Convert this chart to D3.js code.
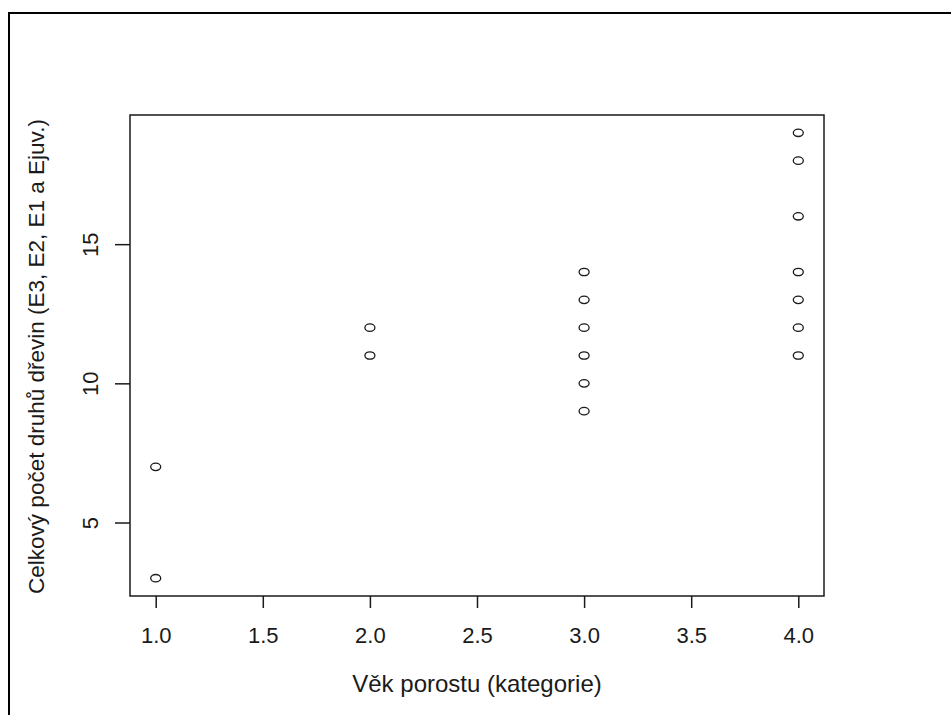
<!DOCTYPE html>
<html>
<head>
<meta charset="utf-8">
<script src="https://cdn.jsdelivr.net/npm/d3@7"></script>
<style>
  html, body { margin: 0; padding: 0; background: #fff; }
  svg { display: block; font-family: "Liberation Sans", Arial, sans-serif; }
</style>
</head>
<body>
<svg id="chart"></svg>
<script>
// --- data ---
const vekKategorie = [1, 1, 2, 2, 3, 3, 3, 3, 3, 3, 4, 4, 4, 4, 4, 4, 4];
const pocetDruhu   = [7, 3, 12, 11, 14, 13, 12, 11, 10, 9, 19, 18, 16, 14, 13, 12, 11];
const xTicks = [1.0, 1.5, 2.0, 2.5, 3.0, 3.5, 4.0];
const yTicks = [5, 10, 15];
const xLabel = "Věk porostu (kategorie)";
const yLabel = "Celkový počet druhů dřevin (E3, E2, E1 a Ejuv.)";

const points = vekKategorie.map((v, i) => ({ x: v, y: pocetDruhu[i] }));

// --- layout ---
const svgW = 951, svgH = 715;
const box = { left: 130, right: 824, top: 115, bottom: 596 };
const ink = "#1a1a1a";

const svg = d3.select("#chart").attr("width", svgW).attr("height", svgH);

// outer frame (only top + left edges show in the picture)
svg.append("path")
  .attr("d", `M9,${svgH} L9,13 L${svgW},13`)
  .attr("fill", "none")
  .attr("stroke", "#000")
  .attr("stroke-width", 2);

// R style 4% axis extension
const xExt = d3.extent(vekKategorie), yExt = d3.extent(pocetDruhu);
const xPad = (xExt[1] - xExt[0]) * 0.04, yPad = (yExt[1] - yExt[0]) * 0.04;
const x = d3.scaleLinear().domain([xExt[0] - xPad, xExt[1] + xPad]).range([box.left, box.right]);
const y = d3.scaleLinear().domain([yExt[0] - yPad, yExt[1] + yPad]).range([box.bottom, box.top]);

// x axis
const gx = svg.append("g").attr("transform", `translate(0,${box.bottom})`)
  .call(d3.axisBottom(x).tickValues(xTicks).tickFormat(d3.format(".1f")).tickSize(12).tickPadding(20));
gx.select(".domain").remove();
gx.selectAll("line").attr("stroke", ink).attr("stroke-width", 1.5);
gx.selectAll("text").attr("fill", ink).style("font-size", "22px").attr("dy", null).attr("y", 47);

// y axis (labels rotated like R las=0)
const gy = svg.append("g").attr("transform", `translate(${box.left},0)`)
  .call(d3.axisLeft(y).tickValues(yTicks).tickSize(15));
gy.select(".domain").remove();
gy.selectAll("line").attr("stroke", ink).attr("stroke-width", 1.5);
gy.selectAll("text")
  .attr("fill", ink)
  .style("font-size", "22px")
  .attr("x", null).attr("dy", null)
  .attr("text-anchor", "middle")
  .attr("transform", "translate(-32,0) rotate(-90)");

// plot box
svg.append("rect")
  .attr("x", box.left).attr("y", box.top)
  .attr("width", box.right - box.left).attr("height", box.bottom - box.top)
  .attr("fill", "none").attr("stroke", ink).attr("stroke-width", 1.5);

// points (open circles, slightly stretched like the picture)
svg.selectAll("ellipse.pt")
  .data(points)
  .enter()
  .append("ellipse")
  .attr("class", "pt")
  .attr("cx", d => x(d.x))
  .attr("cy", d => y(d.y))
  .attr("rx", 5)
  .attr("ry", 3.7)
  .attr("fill", "none")
  .attr("stroke", ink)
  .attr("stroke-width", 1.3);

// axis titles
svg.append("text")
  .attr("x", (box.left + box.right) / 2)
  .attr("y", 692)
  .attr("text-anchor", "middle")
  .attr("fill", ink)
  .style("font-size", "24px")
  .text(xLabel);

svg.append("text")
  .attr("transform", `translate(44,${(box.top + box.bottom) / 2 + 1}) rotate(-90)`)
  .attr("text-anchor", "middle")
  .attr("fill", ink)
  .style("font-size", "22.5px")
  .text(yLabel);
</script>
</body>
</html>
